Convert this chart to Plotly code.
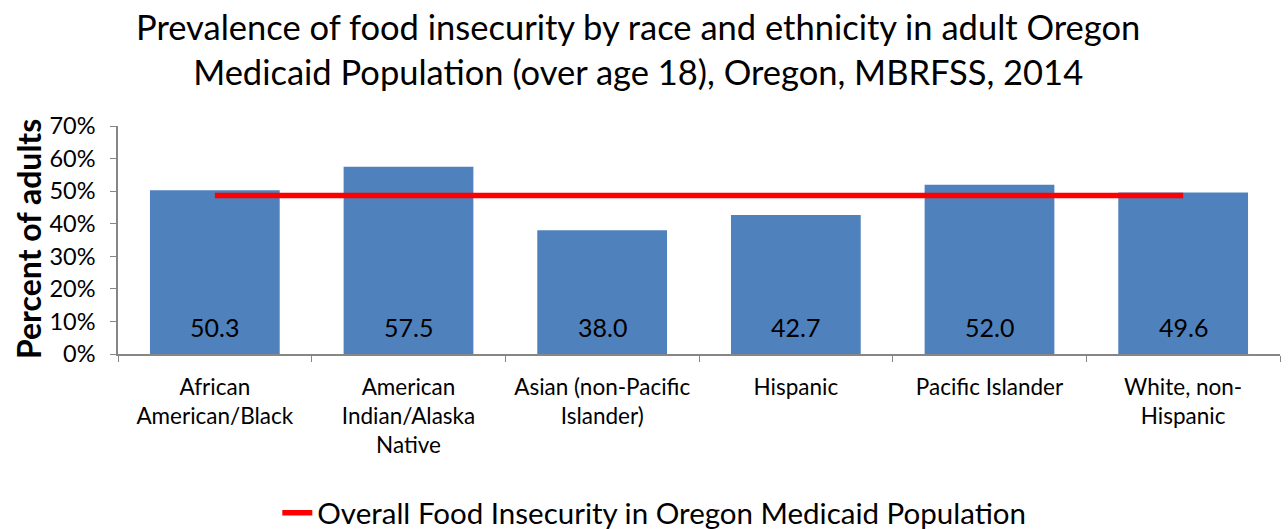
import plotly.graph_objects as go

categories = ["African<br>American/Black", "American<br>Indian/Alaska<br>Native",
              "Asian (non-Pacific<br>Islander)", "Hispanic", "Pacific Islander",
              "White, non-<br>Hispanic"]
prevalence = [50.3, 57.5, 38.0, 42.7, 52.0, 49.6]
overall_rate = 48.7
overall_name = "Overall Food Insecurity in Oregon Medicaid Population"
title_text = ("Prevalence of food insecurity by race and ethnicity in adult Oregon<br>"
              "Medicaid Population (over age 18), Oregon, MBRFSS, 2014")
y_title = "Percent of adults"

FONT = "Lato"

fig = go.Figure()
fig.add_trace(go.Bar(
    x=categories, y=prevalence, marker_color="#4F81BD",
    marker_line_width=0, showlegend=False,
))
fig.add_trace(go.Scatter(
    x=categories, y=[overall_rate] * len(categories), mode="lines",
    line=dict(color="#FF0000", width=5.5), name=overall_name,
))
for c, v in zip(categories, prevalence):
    fig.add_annotation(x=c, y=8.3, text=f"{v:.1f}", showarrow=False,
                       font=dict(family=FONT, size=25, color="black"))

# title
fig.add_annotation(xref="paper", yref="paper", x=0.4475, y=1.338, xanchor="center",
                   yanchor="middle", text=title_text, showarrow=False,
                   font=dict(family=FONT, size=34.5, color="black"))
# y-axis title
fig.add_annotation(xref="paper", yref="paper", x=-0.0775, y=0.504, xanchor="center",
                   yanchor="middle", textangle=-90, text=f"<b>{y_title}</b>",
                   showarrow=False, font=dict(family=FONT, size=32, color="black"))

fig.update_layout(
    width=1288, height=529,
    margin=dict(l=118, r=8, t=126, b=175),
    paper_bgcolor="white", plot_bgcolor="white",
    font=dict(family=FONT, color="black"),
    bargap=0.33,
    legend=dict(orientation="h", xref="container", x=0.508, xanchor="center",
                yref="container", y=0.03, yanchor="middle",
                font=dict(family=FONT, size=29.5, color="black")),
)
fig.update_xaxes(
    automargin=False,
    showline=True, linecolor="#868686", linewidth=1.5,
    ticks="outside", tickson="boundaries", ticklen=6, tickcolor="#868686",
    tickfont=dict(family=FONT, size=22.5, color="black"), showgrid=False,
    ticklabelstandoff=12,
)
fig.update_yaxes(
    automargin=False,
    range=[0, 70], dtick=10, ticksuffix="%",
    showline=True, linecolor="#868686", linewidth=1.5,
    ticks="outside", ticklen=6, tickcolor="#868686", showgrid=False, zeroline=False,
    tickfont=dict(family=FONT, size=23.5, color="black"),
    ticklabelstandoff=10,
)

fig.write_html("out.html", config={"displayModeBar": False},
               post_script="document.body.style.margin='0';")
